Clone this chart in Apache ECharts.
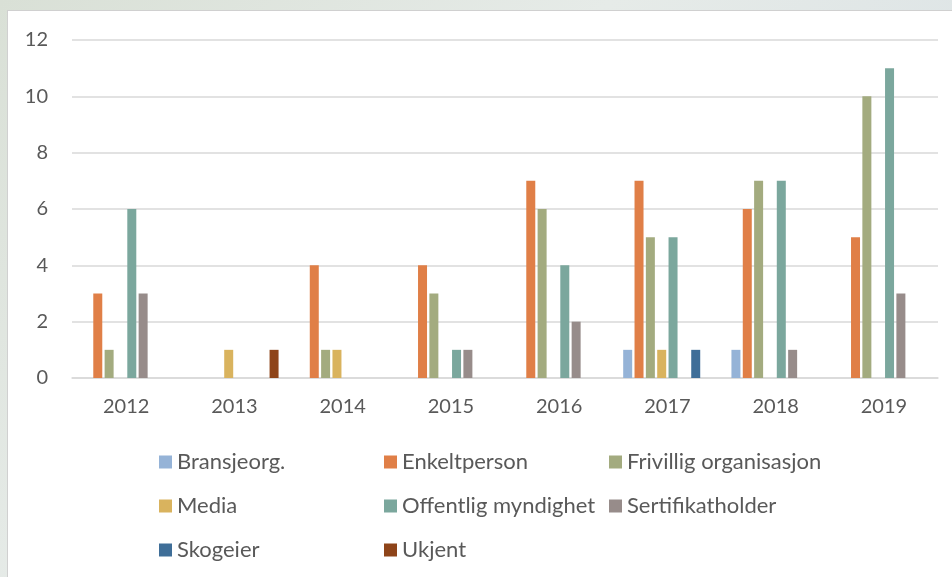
<!DOCTYPE html>
<html>
<head>
<meta charset="utf-8">
<script src="https://cdn.jsdelivr.net/npm/echarts@6/dist/echarts.min.js"></script>
<style>
html,body{margin:0;padding:0;width:952px;height:577px;overflow:hidden;}
body{background:linear-gradient(135deg,#d9e0d6 0%,#e6ebe8 40%,#dde4e6 70%,#e4e6dc 100%);}
#panel{position:absolute;left:7px;top:10px;width:945px;height:567px;background:#fff;border-left:1px solid #d0d0d0;border-top:1px solid #d0d0d0;box-sizing:border-box;}
#chart{position:absolute;left:0;top:0;width:952px;height:577px;}
</style>
</head>
<body>
<div id="panel"></div>
<div id="chart"></div>
<script>
const categories = ['2012','2013','2014','2015','2016','2017','2018','2019'];
const seriesNames = ['Bransjeorg.','Enkeltperson','Frivillig organisasjon','Media','Offentlig myndighet','Sertifikatholder','Skogeier','Ukjent'];
const bransjeorg   = [0,0,0,0,0,1,1,0];
const enkeltperson = [3,0,4,4,7,7,6,5];
const frivillig    = [1,0,1,3,6,5,7,10];
const media        = [0,1,1,0,0,1,0,0];
const offentlig    = [6,0,0,1,4,5,7,11];
const sertifikat   = [3,0,0,1,2,0,1,3];
const skogeier     = [0,0,0,0,0,1,0,0];
const ukjent       = [0,1,0,0,0,0,0,0];
const yTicks = [0,2,4,6,8,10,12];

const values = [bransjeorg,enkeltperson,frivillig,media,offentlig,sertifikat,skogeier,ukjent];
const colors = ['#95B3D7','#E07F47','#A3AB7F','#D9B35E','#7BA79D','#978C8A','#3F6E98','#8E4419'];
const font = 'Lato, "Open Sans", sans-serif';

const legendPos = [
  [159,451],[384,451],[609,451],
  [159,495],[384,495],[609,495],
  [159,539],[384,539]
];

const chart = echarts.init(document.getElementById('chart'));
chart.setOption({
  animation:false,
  textStyle:{fontFamily:font},
  grid:{left:72,right:14,top:40,bottom:199,containLabel:false},
  legend: seriesNames.map((n,i)=>({
    data:[n], left:legendPos[i][0], top:legendPos[i][1],
    icon:'rect', itemWidth:13, itemHeight:13, itemGap:0, padding:0,
    textStyle:{fontFamily:font,fontSize:22,color:'#595959'}
  })),
  xAxis:{
    type:'category', data:categories,
    axisLine:{show:true,lineStyle:{color:'#D9D9D9',width:1.5}},
    axisTick:{show:false},
    axisLabel:{fontSize:20,color:'#595959',margin:19,fontFamily:font}
  },
  yAxis:{
    type:'value', min:yTicks[0], max:yTicks[yTicks.length-1], interval:2,
    axisLine:{show:false}, axisTick:{show:false},
    splitLine:{lineStyle:{color:'#D9D9D9',width:1.5}},
    axisLabel:{fontSize:20,color:'#595959',margin:24,fontFamily:font}
  },
  series: seriesNames.map((n,i)=>({
    name:n, type:'bar', data:values[i],
    barWidth:9, barGap:'26%',
    itemStyle:{color:colors[i]}
  }))
});
</script>
</body>
</html>
